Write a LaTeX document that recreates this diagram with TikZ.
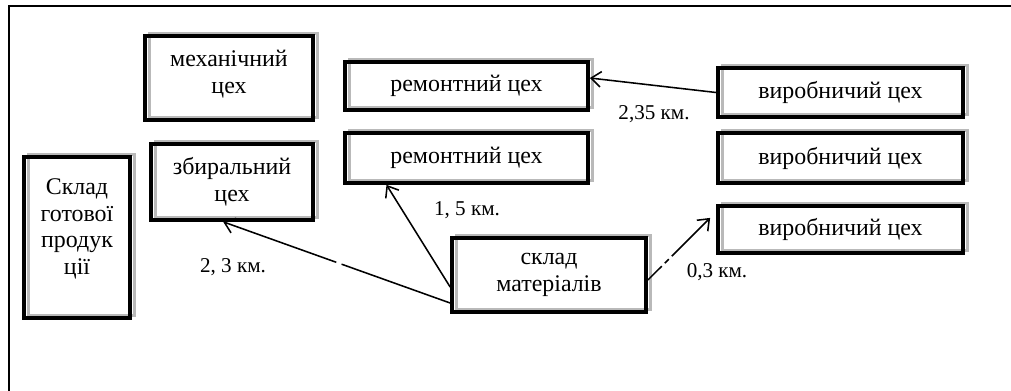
\documentclass[tikz,border=0pt]{standalone}
\usepackage{fontspec}
\setmainfont{Liberation Serif}
\usetikzlibrary{arrows.meta}

\tikzset{
  cex/.style={draw, line width=2.6pt, align=center, inner sep=2pt,
    font=\fontsize{17}{19}\selectfont,
    preaction={draw=gray!55, line width=2pt, transform canvas={xshift=3pt,yshift=2pt}}},
  km/.style={font=\fontsize{15}{17}\selectfont, inner sep=0pt},
  shlyakh/.style={line width=1.1pt, -{Straight Barb[length=7pt,width=11pt]}}
}

\begin{document}
\begin{tikzpicture}[x=0.025cm,y=-0.025cm]
    \useasboundingbox (0,0) rectangle (1011,390);
    \draw[line width=1.7pt] (9,400) -- (9,6) -- (1020,6);

    \node[cex, minimum width=4.2cm, minimum height=2.1cm, text depth=0.3cm] (mech) at (229,78) {механічний\\цех};
    \node[cex, minimum width=4.05cm, minimum height=1.9cm] (zbir) at (232,182) {збиральний\\цех};
    \node[cex, minimum width=2.65cm, minimum height=4.025cm, text depth=0.55cm] (gotova) at (77,237.5) {Склад\\готової\\продук\\ції};
    \node[cex, minimum width=6.075cm, minimum height=1.2cm] (rem1) at (466.5,86) {ремонтний цех};
    \node[cex, minimum width=6.075cm, minimum height=1.25cm] (rem2) at (466.5,158) {ремонтний цех};
    \node[cex, minimum width=4.85cm, minimum height=1.85cm] (mat) at (549,275) {склад\\матеріалів};
    \node[cex, minimum width=6.125cm, minimum height=1.225cm] (vyr1) at (840.5,92.5) {виробничий цех};
    \node[cex, minimum width=6.125cm, minimum height=1.25cm] (vyr2) at (840.5,158) {виробничий цех};
    \node[cex, minimum width=6.125cm, minimum height=1.175cm] (vyr3) at (840.5,229.5) {виробничий цех};

    \draw[shlyakh] (vyr1.west) -- ([yshift=0.2cm]rem1.east);
    \draw[shlyakh] ([yshift=-0.3cm]mat.west) -- ([xshift=-2cm]rem2.south);
    \draw[shlyakh, dash pattern=on 82pt off 4pt on 300pt] ([yshift=-0.7cm]mat.west) -- ([xshift=-0.22cm]zbir.south);
    \draw[shlyakh, dash pattern=on 14pt off 3pt on 4pt off 3pt on 60pt] ([yshift=-0.125cm]mat.east) -- ([xshift=-0.15cm,yshift=0.29cm]vyr3.west);

    \node[km] (l235) at (654,114) {2,35 км.};
    \node[km] (l15) at (467,210) {1, 5 км.};
    \node[km] (l23) at (233,267) {2, 3 км.};
    \node[km] (l03) at (717,272) {0,3 км.};

\end{tikzpicture}
\end{document}
